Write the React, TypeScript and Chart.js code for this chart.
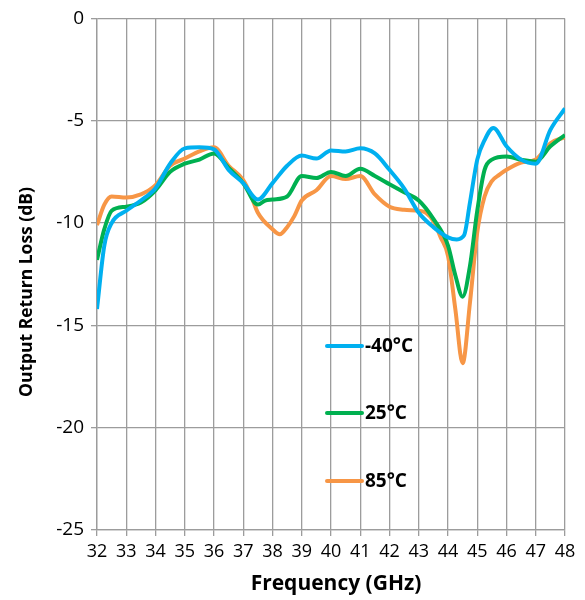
import React, { useEffect, useRef } from "react";
import { Chart, registerables } from "chart.js";

Chart.register(...registerables);

const freqMinus40 = [32.0, 32.25, 32.5, 33.0, 33.5, 34.0, 34.5, 35.0, 35.5, 36.0, 36.5, 37.0, 37.5, 38.0, 38.5, 39.0, 39.5, 40.0, 40.5, 41.0, 41.5, 42.0, 42.5, 43.0, 43.5, 44.0, 44.3, 44.55, 44.75, 45.0, 45.25, 45.55, 46.0, 46.5, 47.0, 47.5, 48.0];
const rlMinus40 = [-14.2, -11.1, -10.0, -9.4, -8.9, -8.3, -7.1, -6.35, -6.3, -6.4, -7.4, -8.05, -8.85, -8.05, -7.2, -6.7, -6.85, -6.45, -6.5, -6.35, -6.6, -7.4, -8.3, -9.5, -10.2, -10.7, -10.8, -10.6, -9.0, -6.9, -5.95, -5.35, -6.25, -6.9, -7.1, -5.45, -4.4];

const freq25 = [32.0, 32.25, 32.5, 33.0, 33.5, 34.0, 34.5, 35.0, 35.5, 36.0, 36.5, 37.0, 37.5, 37.75, 38.0, 38.5, 39.0, 39.5, 40.0, 40.5, 41.0, 41.5, 42.0, 42.5, 43.0, 43.5, 44.0, 44.25, 44.5, 44.75, 45.0, 45.25, 45.5, 46.0, 46.5, 47.0, 47.5, 48.0];
const rl25 = [-11.8, -10.3, -9.4, -9.2, -9.0, -8.4, -7.5, -7.1, -6.9, -6.6, -7.3, -8.05, -9.1, -8.9, -8.85, -8.7, -7.7, -7.8, -7.5, -7.7, -7.35, -7.7, -8.1, -8.5, -8.9, -9.8, -11.1, -12.55, -13.6, -12.1, -9.4, -7.4, -6.9, -6.75, -6.9, -7.0, -6.25, -5.7];

const freq85 = [32.0, 32.25, 32.5, 33.0, 33.5, 34.0, 34.5, 35.0, 35.5, 36.0, 36.5, 37.0, 37.25, 37.5, 38.0, 38.25, 38.5, 38.75, 39.0, 39.5, 40.0, 40.5, 41.0, 41.5, 42.0, 42.5, 43.0, 43.25, 43.5, 43.75, 44.0, 44.25, 44.5, 44.75, 45.0, 45.25, 45.5, 45.75, 46.0, 46.5, 47.0, 47.5, 48.0];
const rl85 = [-10.1, -9.1, -8.7, -8.75, -8.6, -8.15, -7.2, -6.85, -6.5, -6.3, -7.2, -7.9, -8.6, -9.5, -10.3, -10.55, -10.2, -9.65, -8.9, -8.4, -7.7, -7.85, -7.7, -8.6, -9.2, -9.35, -9.4, -9.5, -9.9, -10.7, -11.6, -14.2, -16.85, -13.9, -10.45, -8.7, -7.95, -7.65, -7.4, -7.05, -6.9, -6.1, -5.8];

const seriesLabels = ["-40°C", "25°C", "85°C"];
const seriesColors = ["#00B0F0", "#00B050", "#F79646"];
const xTicks = { min: 32, max: 48, step: 1 };
const yTicks = { min: -25, max: 0, step: 5 };
const xTitle = "Frequency (GHz)";
const yTitle = "Output Return Loss (dB)";

const FONT = "'Open Sans', 'Liberation Sans', sans-serif";

const overlayPlugin = {
  id: "overlayText",
  afterDatasetsDraw(chart: any) {
    const { ctx } = chart;
    const rows = [346, 413, 481];
    ctx.save();
    chart.data.datasets.forEach((ds: any, i: number) => {
      const y = rows[i];
      ctx.strokeStyle = ds.borderColor;
      ctx.lineWidth = 4;
      ctx.lineCap = "round";
      ctx.beginPath();
      ctx.moveTo(327, y);
      ctx.lineTo(362, y);
      ctx.stroke();
      ctx.fillStyle = "#000";
      ctx.font = `bold 19px ${FONT}`;
      ctx.textBaseline = "middle";
      ctx.textAlign = "left";
      ctx.fillText(ds.label, 365, y + 1);
    });
    ctx.restore();
  },
  afterDraw(chart: any) {
    const { ctx } = chart;
    ctx.save();
    ctx.fillStyle = "#000";
    ctx.textAlign = "center";
    ctx.textBaseline = "middle";
    ctx.font = `bold 21px ${FONT}`;
    ctx.fillText(xTitle, 336, 584);
    ctx.translate(27, 292);
    ctx.rotate(-Math.PI / 2);
    ctx.font = `bold 17.5px ${FONT}`;
    ctx.fillText(yTitle, 0, 0);
    ctx.restore();
  },
};

export default function App() {
  const ref = useRef<HTMLCanvasElement | null>(null);

  useEffect(() => {
    if (!ref.current) return;
    const mk = (xs: number[], ys: number[]) => xs.map((x, i) => ({ x, y: ys[i] }));
    const chart = new Chart(ref.current, {
      type: "line",
      data: {
        datasets: [
          { label: seriesLabels[0], data: mk(freqMinus40, rlMinus40), borderColor: seriesColors[0] },
          { label: seriesLabels[1], data: mk(freq25, rl25), borderColor: seriesColors[1] },
          { label: seriesLabels[2], data: mk(freq85, rl85), borderColor: seriesColors[2] },
        ].map((d) => ({
          ...d,
          backgroundColor: d.borderColor,
          borderWidth: 4,
          pointRadius: 0,
          tension: 0.4,
          cubicInterpolationMode: "monotone" as const,
          fill: false,
        })),
      },
      options: {
        animation: false,
        responsive: false,
        maintainAspectRatio: false,
        layout: { padding: { top: 14, right: 20, left: 0, bottom: 0 } },
        plugins: { legend: { display: false }, tooltip: { enabled: false } },
        scales: {
          x: {
            type: "linear",
            min: xTicks.min,
            max: xTicks.max,
            ticks: {
              stepSize: xTicks.step,
              color: "#000",
              font: { family: FONT, size: 18 },
              padding: 5,
              maxRotation: 0,
              autoSkip: false,
            },
            grid: { color: "#9c9c9c", lineWidth: 1.3, tickLength: 6, drawTicks: true },
            border: { color: "#9c9c9c", width: 1.3 },
            title: { display: false },
            afterFit: (s: any) => {
              s.height = 70;
            },
          },
          y: {
            type: "linear",
            min: yTicks.min,
            max: yTicks.max,
            ticks: {
              stepSize: yTicks.step,
              color: "#000",
              font: { family: FONT, size: 19 },
              padding: 7,
            },
            grid: { color: "#9c9c9c", lineWidth: 1.3, tickLength: 6, drawTicks: true },
            border: { color: "#9c9c9c", width: 1.3 },
            title: { display: false },
            afterFit: (s: any) => {
              s.width = 97;
            },
          },
        },
      },
      plugins: [overlayPlugin],
    });
    return () => chart.destroy();
  }, []);

  return (
    <div style={{ position: "fixed", left: 0, top: 0, width: 585, height: 600, background: "#fff" }}>
      <canvas ref={ref} width={585} height={600} style={{ width: 585, height: 600 }} />
    </div>
  );
}
